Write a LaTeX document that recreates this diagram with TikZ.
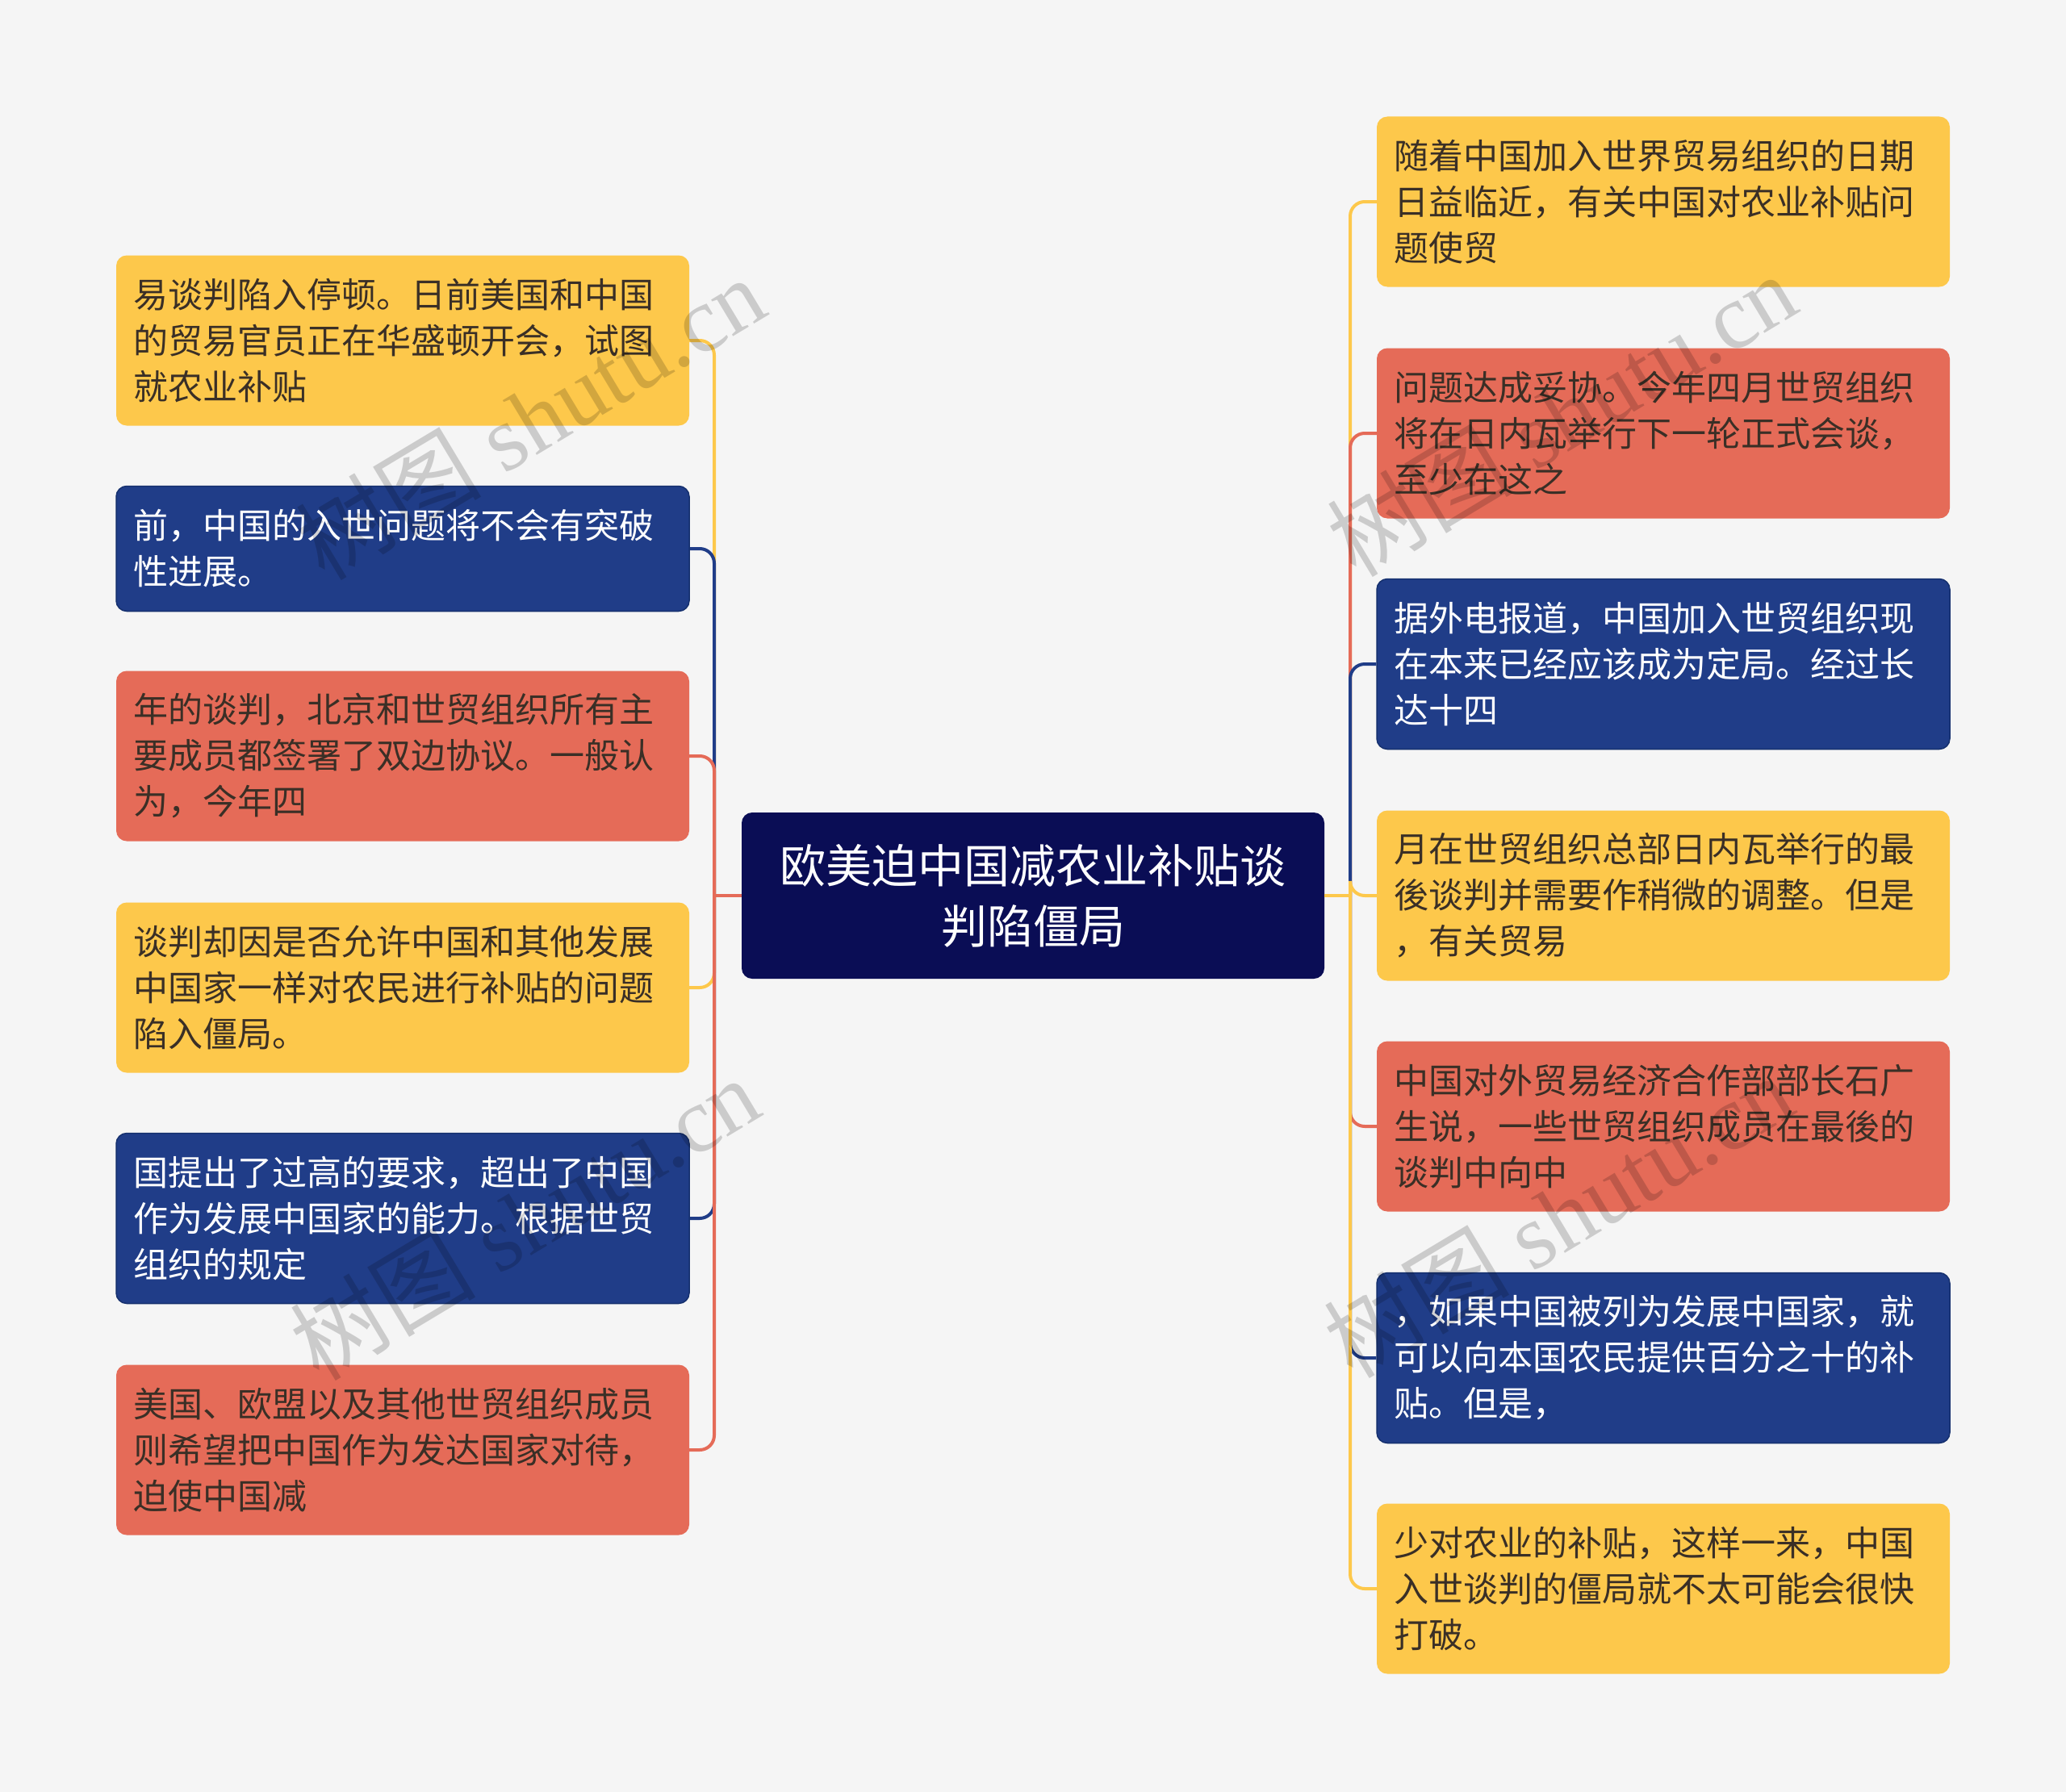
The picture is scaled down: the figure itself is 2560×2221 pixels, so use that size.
\documentclass[tikz,border=0pt]{standalone}
\usepackage{fontspec}
\newfontfamily\cjk{Noto Sans CJK SC}
\newfontfamily\wmlat{Liberation Serif}
\definecolor{bg}{HTML}{F5F5F5}
\definecolor{cy}{HTML}{FDC84B}
\definecolor{cr}{HTML}{E56B58}
\definecolor{cb}{HTML}{203D88}
\definecolor{cbd}{HTML}{15306E}
\definecolor{cnavy}{HTML}{0A0D55}
\definecolor{tdark}{HTML}{3A2F26}
\begin{document}
\begin{tikzpicture}[x=1pt,y=-1pt,
  leaf/.style={rounded corners=13pt, minimum width=710pt, minimum height=211pt,
    text width=668pt, inner xsep=21pt, inner ysep=0pt, align=left,
    font=\cjk\fontsize{43}{57}\selectfont},
  yleaf/.style={leaf, fill=cy, text=tdark},
  rleaf/.style={leaf, fill=cr, text=tdark},
  bleaf/.style={leaf, fill=cb, draw=cbd, line width=1.5pt, text=white},
  rootnode/.style={rounded corners=13pt, fill=cnavy, text=white, minimum width=722pt,
    minimum height=206pt, align=center, inner sep=0pt,
    font=\cjk\fontsize{57}{75}\selectfont},
  conn/.style={line width=4pt},
  elbow/.style={conn, rounded corners=18pt},
  wm/.style={rotate=31, text=black, text opacity=0.17, inner sep=0pt,
    font=\fontsize{115}{115}\selectfont}
]
\fill[bg] (0,0) rectangle (2560,2221);
\useasboundingbox (0,0) rectangle (2560,2221);

% root
\node[rootnode] (root) at (1280,1110) {欧美迫中国减农业补贴谈\\判陷僵局};
\coordinate (lb) at (885,1110);
\coordinate (rb) at (1673,1110);

% left nodes
\node[yleaf] (L1) at (499,422) {易谈判陷入停顿。日前美国和中国\\的贸易官员正在华盛顿开会，试图\\就农业补贴};
\node[bleaf, minimum height=155pt] (L2) at (499,680) {前，中国的入世问题将不会有突破\\性进展。};
\node[rleaf] (L3) at (499,937) {年的谈判，北京和世贸组织所有主\\要成员都签署了双边协议。一般认\\为，今年四};
\node[yleaf] (L4) at (499,1224) {谈判却因是否允许中国和其他发展\\中国家一样对农民进行补贴的问题\\陷入僵局。};
\node[bleaf] (L5) at (499,1510) {国提出了过高的要求，超出了中国\\作为发展中国家的能力。根据世贸\\组织的规定};
\node[rleaf] (L6) at (499,1797) {美国、欧盟以及其他世贸组织成员\\则希望把中国作为发达国家对待，\\迫使中国减};

% right nodes
\node[yleaf] (R1) at (2061,250) {随着中国加入世界贸易组织的日期\\日益临近，有关中国对农业补贴问\\题使贸};
\node[rleaf] (R2) at (2061,537) {问题达成妥协。今年四月世贸组织\\将在日内瓦举行下一轮正式会谈，\\至少在这之};
\node[bleaf] (R3) at (2061,823) {据外电报道，中国加入世贸组织现\\在本来已经应该成为定局。经过长\\达十四};
\node[yleaf] (R4) at (2061,1110) {月在世贸组织总部日内瓦举行的最\\後谈判并需要作稍微的调整。但是\\，有关贸易};
\node[rleaf] (R5) at (2061,1396) {中国对外贸易经济合作部部长石广\\生说，一些世贸组织成员在最後的\\谈判中向中};
\node[bleaf] (R6) at (2061,1683) {，如果中国被列为发展中国家，就\\可以向本国农民提供百分之十的补\\贴。但是，};
\node[yleaf] (R7) at (2061,1969) {少对农业的补贴，这样一来，中国\\入世谈判的僵局就不太可能会很快\\打破。};

% left connectors
\draw[elbow, cy] (lb) |- (L1.east);
\draw[elbow, cb] (lb) |- (L2.east);
\draw[elbow, cy] (lb) |- (L4.east);
\draw[elbow, cb] (lb) |- (L5.east);
\draw[elbow, cr] (lb) |- (L3.east);
\draw[elbow, cr] (lb) |- (L6.east);
\draw[conn, cr] (root.west) -- (lb);

% right connectors
\draw[elbow, cy] (rb) |- (R1.west);
\draw[elbow, cr] (rb) |- (R2.west);
\draw[elbow, cb] (rb) |- (R3.west);
\draw[elbow, cr] (rb) |- (R5.west);
\draw[elbow, cb] (rb) |- (R6.west);
\draw[elbow, cy] (rb) |- (R4.west);
\draw[elbow, cy] (rb) |- (R7.west);
\draw[conn, cy] (root.east) -- (rb);

% watermarks
\node[wm] (w1) at (657,518) {\cjk 树图\wmlat{} shutu.cn};
\node[wm] (w2) at (1935,514) {\cjk 树图\wmlat{} shutu.cn};
\node[wm] (w3) at (650,1510) {\cjk 树图\wmlat{} shutu.cn};
\node[wm] (w4) at (1931,1507) {\cjk 树图\wmlat{} shutu.cn};
\end{tikzpicture}
\end{document}
